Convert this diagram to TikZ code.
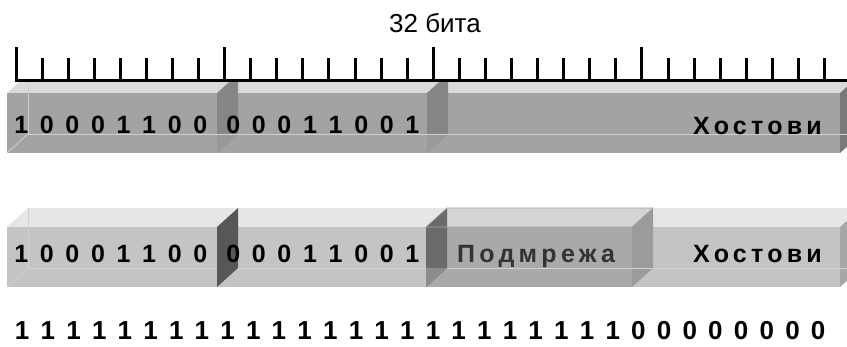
\documentclass[tikz,border=0pt]{standalone}
\usepackage{fontspec}
\setmainfont{Liberation Sans}
\newfontfamily\spacedfont[LetterSpace=17]{Liberation Sans}
\definecolor{frontA}{HTML}{A3A3A3}
\definecolor{topA}{HTML}{DADADA}
\definecolor{sideA}{HTML}{868686}
\definecolor{sideAlow}{HTML}{999999}
\definecolor{frontB}{HTML}{C4C4C4}
\definecolor{topB}{HTML}{E6E6E6}
\definecolor{sideB}{HTML}{575757}
\definecolor{frontP}{HTML}{A9A9A9}
\definecolor{topP}{HTML}{D4D4D4}
\definecolor{rightP}{HTML}{9B9B9B}
\definecolor{leftP}{HTML}{6A6A6A}
\definecolor{leftPlow}{HTML}{8C8C8C}
\definecolor{edgeline}{HTML}{CFCFCF}
\begin{document}
\begin{tikzpicture}[x=1pt,y=-1pt,
  bitsbar/.style={font=\fontsize{25}{25}\bfseries\selectfont, anchor=base west, inner sep=0pt, text=black,
    execute at begin node={\spaceskip=11.7pt\relax}},
  bitsrow/.style={font=\fontsize{26}{26}\bfseries\selectfont, anchor=base west, inner sep=0pt, text=black,
    execute at begin node={\spaceskip=11.22pt\relax}},
  wordlbl/.style={font=\fontsize{25}{25}\spacedfont\bfseries\selectfont, anchor=base west, inner sep=0pt},
  inner/.style={draw=edgeline, line width=0.8pt},
  tick/.style={line width=3pt}]
\useasboundingbox (0,0) rectangle (847,347);
\begin{scope}
\clip (0,0) rectangle (847,347);
% ---------- top bar ----------
\fill[topA] (7,93) -- (28,74) -- (861,74) -- (840,93) -- cycle;
\fill[frontA] (7,93) rectangle (840,153);
\fill[sideA!90!black] (840,93) -- (861,74) -- (861,134) -- (840,153) -- cycle;
\draw[inner] (28,74) -- (28,134) -- (861,134);
\draw[inner] (7,153) -- (28,134);
\fill[sideA] (217,93) -- (238,74) -- (238,134) -- (217,153) -- cycle;
\fill[sideAlow] (217,134) -- (238,134) -- (217,153) -- cycle;
\fill[sideA] (427,93) -- (448,74) -- (448,134) -- (427,153) -- cycle;
\fill[sideAlow] (427,134) -- (448,134) -- (427,153) -- cycle;
\draw[inner] (217,134) -- (238,134) (427,134) -- (448,134);
% ---------- bottom bar ----------
\fill[topB] (7,227) -- (28,208) -- (861,208) -- (840,227) -- cycle;
\fill[frontB] (7,227) rectangle (840,287);
\fill[frontB!85!black] (840,227) -- (861,208) -- (861,268) -- (840,287) -- cycle;
\draw[inner] (28,208) -- (28,268) -- (861,268);
\draw[inner] (7,287) -- (28,268);
\fill[sideB] (217,227) -- (238,208) -- (238,268) -- (217,287) -- cycle;
% subnet box
\fill[frontP] (426,227) rectangle (632,287);
\fill[topP] (426,227) -- (447,208) -- (653,208) -- (632,227) -- cycle;
\fill[rightP] (632,227) -- (653,208) -- (653,268) -- (632,287) -- cycle;
\fill[leftP] (426,227) -- (447,208) -- (447,268) -- (426,287) -- cycle;
\fill[leftPlow] (426,268) -- (447,268) -- (426,287) -- cycle;
\draw[draw=black!35, line width=0.6pt] (426,227) -- (447,208) -- (653,208) -- (632,227) -- cycle;
\draw[inner] (447,268) -- (653,268);
% ---------- blank above ruler ----------
\fill[white] (0,0) rectangle (847,80.5);
\end{scope}
% ---------- ruler ----------
\coordinate (rulerL) at (16,81);
\coordinate (rulerR) at (847,81);
\draw[tick] (rulerL) -- (rulerR);
\foreach \i in {0,...,31}{
  \pgfmathsetmacro{\xx}{16+26.08*\i}
  \pgfmathtruncatemacro{\m}{mod(\i,8)}
  \ifnum\m=0
    \draw[tick] (\xx,82) -- (\xx,47);
  \else
    \draw[tick] (\xx,82) -- (\xx,58);
  \fi
}
\node[font=\fontsize{26}{26}\selectfont, anchor=base, inner sep=0pt] (title) at (435,33) {32 бита};
% ---------- labels ----------
\node[bitsbar] (topnet1) at (14.05,134) {1 0 0 0 1 1 0 0};
\node[bitsbar] (topnet2) at (226.05,134) {0 0 0 1 1 0 0 1};
\node[wordlbl, text=black] (tophost) at (693,135) {Хостови};
\node[bitsbar] (botnet1) at (14.05,263) {1 0 0 0 1 1 0 0};
\node[bitsbar] (botnet2) at (226.05,263) {0 0 0 1 1 0 0 1};
\node[wordlbl, text=black!80] (subnet) at (457,263) {Подмрежа};
\node[wordlbl, text=black] (bothost) at (693,263) {Хостови};
\node[bitsrow] (mask) at (14.8,340) {1 1 1 1 1 1 1 1 1 1 1 1 1 1 1 1 1 1 1 1 1 1 1 1 0 0 0 0 0 0 0 0};
\end{tikzpicture}
\end{document}
